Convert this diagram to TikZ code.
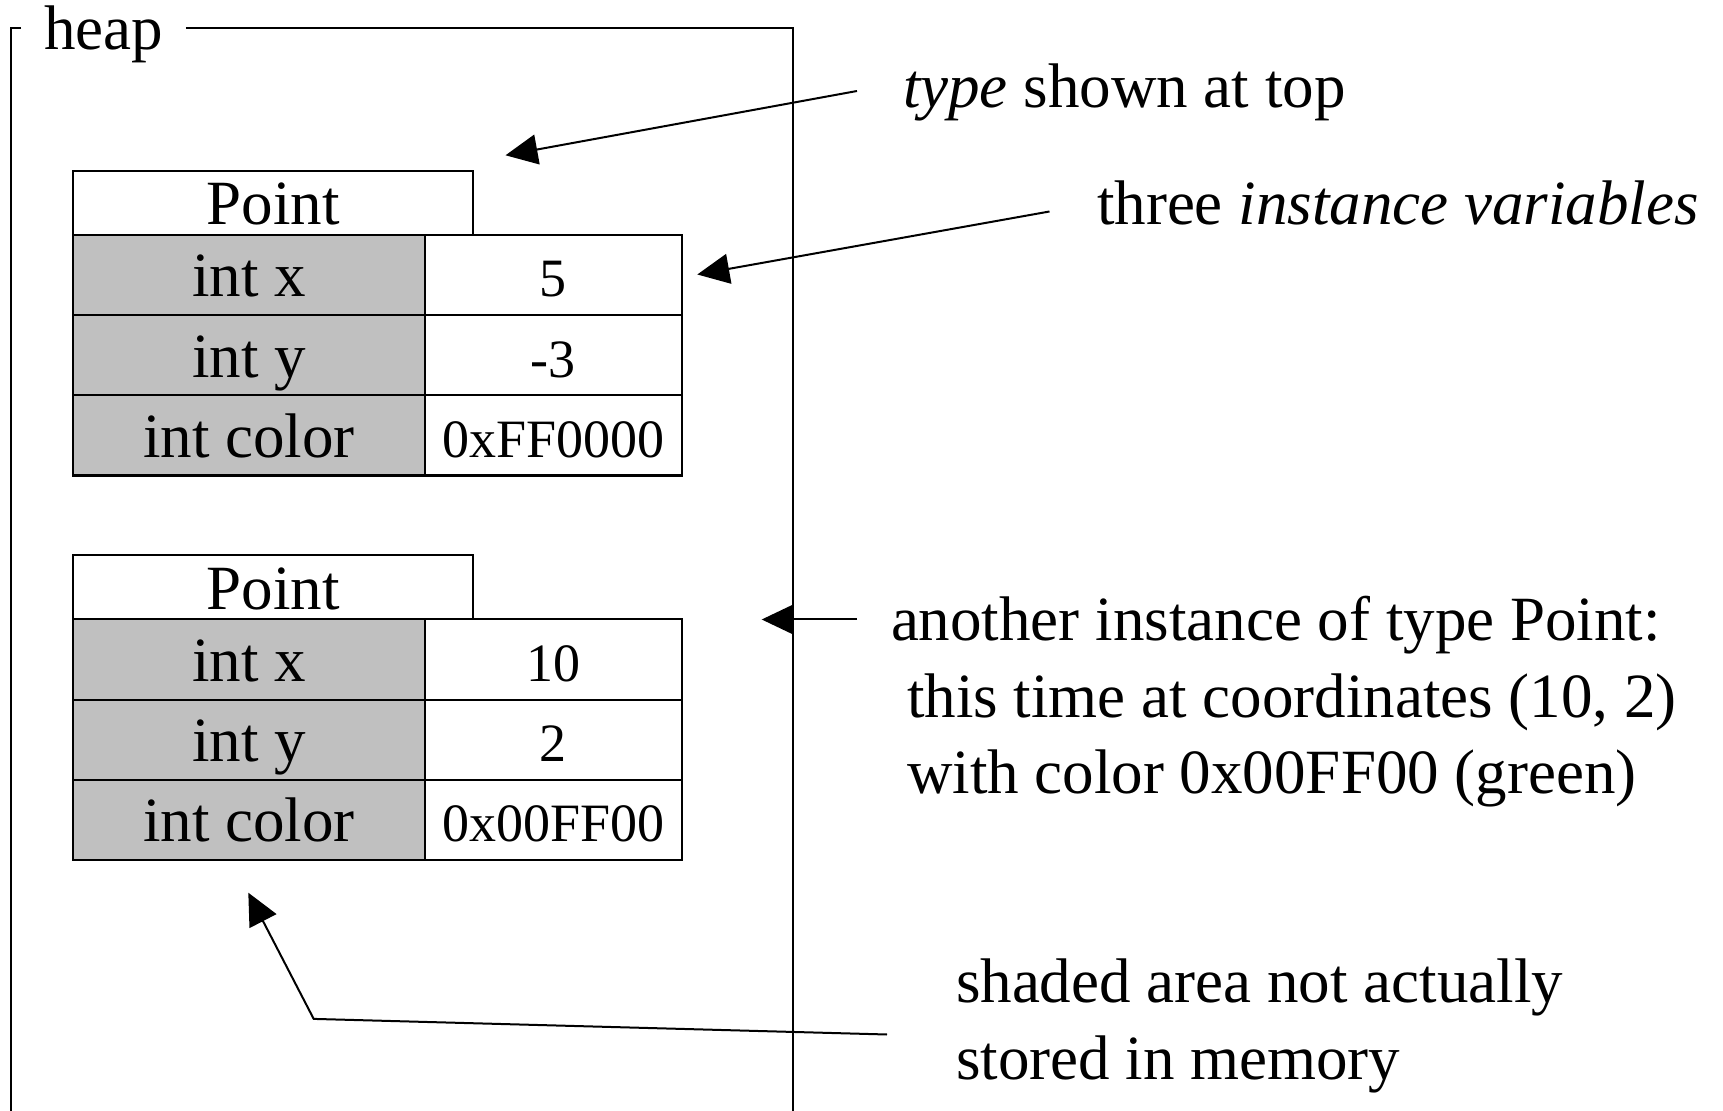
\documentclass[tikz,border=0pt]{standalone}
\usepackage{fontspec}
\setmainfont{Liberation Serif}
\usetikzlibrary{arrows.meta}
\definecolor{fieldgray}{RGB}{192,192,192}
\begin{document}
\begin{tikzpicture}[x=0.5pt,y=-0.5pt,
  every node/.style={inner sep=0pt,outer sep=0pt},
  txt/.style={font=\fontsize{31.5}{38}\selectfont,anchor=base west},
  cellbase/.style={draw,line width=1.1pt,text height=22pt,text depth=0pt,
    minimum height=40.2pt,font=\fontsize{31.5}{38}\selectfont},
  header/.style={cellbase,fill=white,minimum width=200.15pt,minimum height=32.15pt},
  fieldname/.style={cellbase,fill=fieldgray,minimum width=176pt},
  fieldval/.style={cellbase,fill=white,minimum width=128.4pt,font=\fontsize{27}{32}\selectfont},
  frame/.style={line width=1pt},
  conn/.style={line width=1pt,-{Triangle[length=16pt,width=15pt]}}]

\useasboundingbox (0,0) rectangle (1723,1111);

% heap region with its label in the top edge
\coordinate (topy) at (0,28);
\node[txt,inner xsep=11.5pt] (heap) at (21,50) {heap};
\draw[frame] (heap.west |- topy) -- (11,28) -- (11,1111);
\draw[frame] (heap.east |- topy) -- (793,28) -- (793,1111);

% first Point instance
\node[header]    (p1)  at (273.15,202.85) {Point};
\node[fieldname] (x1l) at (249,275)   {int x};
\node[fieldval]  (x1v) at (553.4,275) {5};
\node[fieldname] (y1l) at (249,355.2)   {int y};
\node[fieldval]  (y1v) at (553.4,355.2) {-3};
\node[fieldname] (c1l) at (249,435.3)   {int color};
\node[fieldval]  (c1v) at (553.4,435.3) {0xFF0000};

% second Point instance
\node[header]    (p2)  at (273.15,587.45) {Point};
\node[fieldname] (x2l) at (249,659.6)   {int x};
\node[fieldval]  (x2v) at (553.4,659.6) {10};
\node[fieldname] (y2l) at (249,739.8)   {int y};
\node[fieldval]  (y2v) at (553.4,739.8) {2};
\node[fieldname] (c2l) at (249,819.9)   {int color};
\node[fieldval]  (c2v) at (553.4,819.9) {0x00FF00};

% annotations
\node[txt] (ntype)  at (903,108)  {\textit{type} shown at top};
\node[txt] (nvars)  at (1097,225) {three \textit{instance variables}};
\node[txt] (nanoa)  at (891,641)  {another instance of type Point:};
\node[txt] (nanob)  at (907,718)  {this time at coordinates (10, 2)};
\node[txt] (nanoc)  at (907,793)  {with color 0x00FF00 (green)};
\node[txt] (nshada) at (956,1002) {shaded area not actually};
\node[txt] (nshadb) at (956,1079) {stored in memory};

% arrow end points
\coordinate (a1s) at (857,91);
\coordinate (a1t) at (505.5,155.3);
\coordinate (a2s) at (1049.5,211.5);
\coordinate (a2t) at (697.3,274.5);
\coordinate (a3s) at (857,619.5);
\coordinate (a3t) at (761.7,619.5);
\coordinate (a4s) at (887,1034.5);
\coordinate (a4k) at (313.7,1018.9);
\coordinate (a4t) at (248.3,892.7);

\draw[conn] (a1s) -- (a1t);
\draw[conn] (a2s) -- (a2t);
\draw[conn] (a3s) -- (a3t);
\draw[conn] (a4s) -- (a4k) -- (a4t);
\end{tikzpicture}
\end{document}
